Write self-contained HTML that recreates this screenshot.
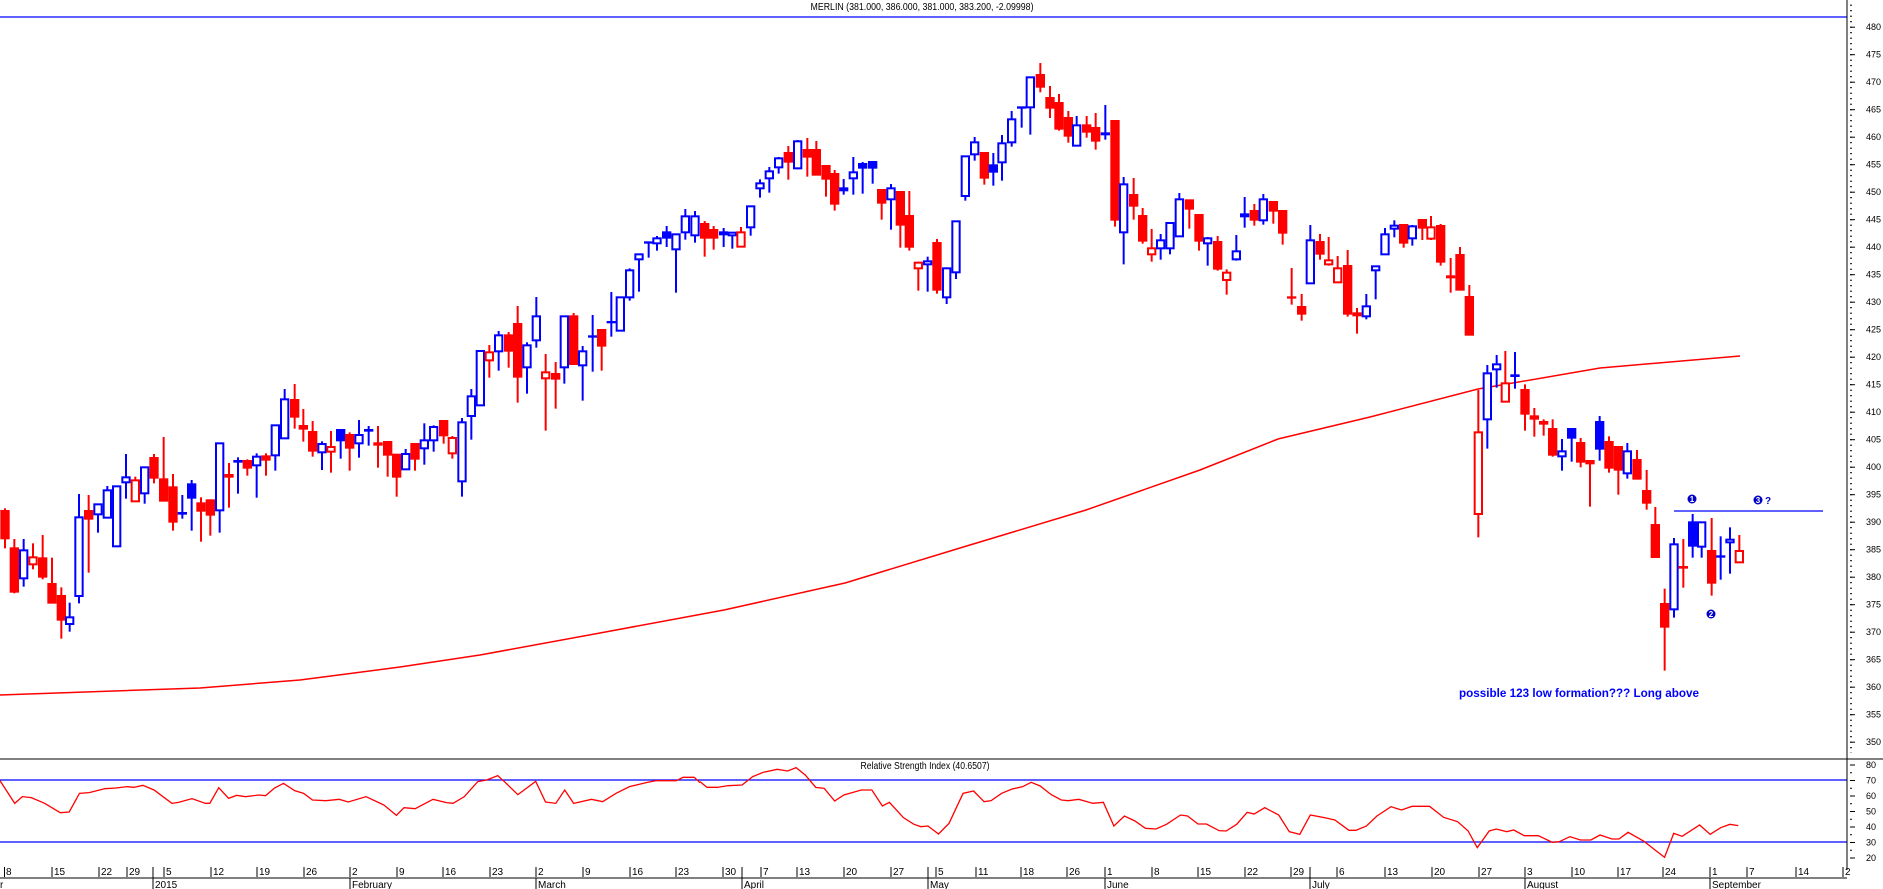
<!DOCTYPE html>
<html><head><meta charset="utf-8"><style>
html,body{margin:0;padding:0;background:#fff;}
svg{display:block;font-family:"Liberation Sans",sans-serif;}
.c path,.c rect{stroke-width:6;}
.R{stroke:#f00;fill:#f00}.B{stroke:#00f;fill:#fff}.H{stroke:#f00;fill:#fff}.F{stroke:#00f;fill:#00f}
.ax text{font-size:9px;fill:#000}
.dt text{font-size:10px;fill:#000}
</style></head><body>
<svg width="1883" height="889" viewBox="0 0 1883 889" xmlns="http://www.w3.org/2000/svg">
<defs>
<pattern id="pm" x="0" y="26.7" width="10" height="5.5" patternUnits="userSpaceOnUse"><line x1="0" y1="0.5" x2="4" y2="0.5" stroke="#000" stroke-width="1"/></pattern>
<pattern id="pM" x="0" y="26.7" width="10" height="27.5" patternUnits="userSpaceOnUse"><line x1="0" y1="0.5" x2="7" y2="0.5" stroke="#000" stroke-width="1"/></pattern>
<pattern id="rm" x="0" y="764.5" width="10" height="7.75" patternUnits="userSpaceOnUse"><line x1="0" y1="0.5" x2="4" y2="0.5" stroke="#000" stroke-width="1"/></pattern>
<pattern id="rM" x="0" y="764.5" width="10" height="15.5" patternUnits="userSpaceOnUse"><line x1="0" y1="0.5" x2="7" y2="0.5" stroke="#000" stroke-width="1"/></pattern>
</defs>
<text x="922" y="10" font-size="10" text-anchor="middle" textLength="223" lengthAdjust="spacingAndGlyphs">MERLIN (381.000, 386.000, 381.000, 383.200, -2.09998)</text>
<line x1="0" y1="17" x2="1847" y2="17" stroke="#00f" stroke-width="1.2"/>

<polyline fill="none" stroke="#f00" stroke-width="1.5" points="0,695 200,688 300,680 400,667 480,655 600,633 724,610 845,583 960,548 1086,510 1200,470 1278,439 1370,417 1478,389 1600,368 1740,356"/>

<g class="c" transform="translate(0,280) scale(0.33333)">
<path class="R" d="M15 685V805"/><rect class="R" x="4" y="693" width="22" height="82"/>
<path class="R" d="M43 777V940"/><rect class="R" x="32" y="805" width="22" height="130"/>
<path class="B" d="M71 777V920"/><rect class="B" x="60" y="811" width="22" height="84"/>
<path class="H" d="M99 790V868"/><rect class="H" x="88" y="832" width="22" height="21"/>
<path class="R" d="M128 765V898"/><rect class="R" x="117" y="835" width="22" height="55"/>
<path class="R" d="M156 833V968"/><rect class="R" x="145" y="912" width="22" height="56"/>
<path class="R" d="M184 922V1076"/><rect class="R" x="173" y="948" width="22" height="71"/>
<path class="B" d="M209 968V1055"/><rect class="B" x="198" y="1012" width="22" height="20"/>
<path class="B" d="M237 642V970"/><rect class="B" x="226" y="712" width="22" height="236"/>
<path class="R" d="M266 645V878"/><rect class="R" x="255" y="693" width="22" height="23"/>
<path class="B" d="M294 673V758"/><rect class="B" x="283" y="673" width="22" height="30"/>
<path class="B" d="M322 618V715"/><rect class="B" x="311" y="631" width="22" height="82"/>
<path class="B" d="M350 618V800"/><rect class="B" x="339" y="619" width="22" height="180"/>
<path class="B" d="M378 522V656"/><rect class="B" x="367" y="592" width="22" height="15"/>
<path class="H" d="M406 590V664"/><rect class="H" x="395" y="601" width="22" height="63"/>
<path class="B" d="M434 562V671"/><rect class="B" x="423" y="562" width="22" height="78"/>
<path class="R" d="M462 522V610"/><rect class="R" x="451" y="534" width="22" height="59"/>
<path class="R" d="M491 471V662"/><rect class="R" x="480" y="598" width="22" height="64"/>
<path class="R" d="M519 582V752"/><rect class="R" x="508" y="622" width="22" height="103"/>
<path class="B" d="M547 645V716"/><rect class="B" x="536" y="699" width="22" height="2"/>
<path class="F" d="M575 600V752"/><rect class="F" x="564" y="613" width="22" height="40"/>
<path class="R" d="M603 652V785"/><rect class="R" x="592" y="670" width="22" height="22"/>
<path class="R" d="M631 658V767"/><rect class="R" x="620" y="661" width="22" height="43"/>
<path class="B" d="M659 490V758"/><rect class="B" x="648" y="490" width="22" height="201"/>
<path class="R" d="M687 549V683"/><rect class="R" x="676" y="585" width="22" height="5"/>
<path class="B" d="M714 532V641"/><rect class="B" x="703" y="543" width="22" height="2"/>
<path class="R" d="M742 538V587"/><rect class="R" x="731" y="543" width="22" height="20"/>
<path class="B" d="M770 520V653"/><rect class="B" x="759" y="530" width="22" height="26"/>
<path class="R" d="M798 520V587"/><rect class="R" x="787" y="529" width="22" height="10"/>
<path class="B" d="M826 436V572"/><rect class="B" x="815" y="436" width="22" height="90"/>
<path class="B" d="M854 327V475"/><rect class="B" x="843" y="358" width="22" height="117"/>
<path class="R" d="M884 312V446"/><rect class="R" x="873" y="360" width="22" height="50"/>
<path class="R" d="M910 387V485"/><rect class="R" x="899" y="438" width="22" height="8"/>
<path class="R" d="M938 423V530"/><rect class="R" x="927" y="456" width="22" height="56"/>
<path class="B" d="M966 484V570"/><rect class="B" x="955" y="492" width="22" height="25"/>
<path class="H" d="M993 453V578"/><rect class="H" x="982" y="501" width="22" height="14"/>
<path class="F" d="M1022 450V536"/><rect class="F" x="1011" y="450" width="22" height="31"/>
<path class="R" d="M1049 457V572"/><rect class="R" x="1038" y="465" width="22" height="38"/>
<path class="B" d="M1077 420V533"/><rect class="B" x="1066" y="465" width="22" height="25"/>
<path class="B" d="M1106 438V497"/><rect class="B" x="1095" y="450" width="22" height="2"/>
<path class="R" d="M1134 438V563"/><rect class="R" x="1123" y="490" width="22" height="4"/>
<path class="R" d="M1163 486V590"/><rect class="R" x="1152" y="486" width="22" height="38"/>
<path class="R" d="M1190 524V650"/><rect class="R" x="1179" y="524" width="22" height="66"/>
<path class="B" d="M1217 507V568"/><rect class="B" x="1206" y="522" width="22" height="46"/>
<path class="R" d="M1245 492V572"/><rect class="R" x="1234" y="492" width="22" height="44"/>
<path class="B" d="M1273 430V554"/><rect class="B" x="1262" y="481" width="22" height="24"/>
<path class="B" d="M1301 436V515"/><rect class="B" x="1290" y="441" width="22" height="40"/>
<path class="R" d="M1331 423V491"/><rect class="R" x="1320" y="423" width="22" height="43"/>
<path class="H" d="M1357 468V536"/><rect class="H" x="1346" y="474" width="22" height="46"/>
<path class="B" d="M1386 414V650"/><rect class="B" x="1375" y="427" width="22" height="177"/>
<path class="B" d="M1414 327V479"/><rect class="B" x="1403" y="349" width="22" height="59"/>
</g>

<g class="c" transform="translate(460,120) scale(0.33333)">
<path class="B" d="M61 693V856"/><rect class="B" x="50" y="693" width="22" height="163"/>
<path class="H" d="M88 675V773"/><rect class="H" x="77" y="697" width="22" height="24"/>
<path class="B" d="M116 633V752"/><rect class="B" x="105" y="646" width="22" height="48"/>
<path class="R" d="M146 636V743"/><rect class="R" x="135" y="646" width="22" height="46"/>
<path class="R" d="M173 558V848"/><rect class="R" x="162" y="612" width="22" height="158"/>
<path class="B" d="M201 667V821"/><rect class="B" x="190" y="676" width="22" height="66"/>
<path class="B" d="M229 531V683"/><rect class="B" x="218" y="589" width="22" height="72"/>
<path class="H" d="M257 702V932"/><rect class="H" x="246" y="757" width="22" height="18"/>
<path class="R" d="M287 726V866"/><rect class="R" x="276" y="762" width="22" height="14"/>
<path class="B" d="M313 589V791"/><rect class="B" x="302" y="589" width="22" height="153"/>
<path class="R" d="M341 579V732"/><rect class="R" x="330" y="589" width="22" height="143"/>
<path class="B" d="M368 678V842"/><rect class="B" x="357" y="694" width="22" height="42"/>
<path class="B" d="M398 585V755"/><rect class="B" x="387" y="649" width="22" height="1"/>
<path class="R" d="M425 630V752"/><rect class="R" x="414" y="630" width="22" height="47"/>
<path class="B" d="M454 516V650"/><rect class="B" x="443" y="606" width="22" height="1"/>
<path class="B" d="M481 532V632"/><rect class="B" x="470" y="532" width="22" height="100"/>
<path class="B" d="M509 445V542"/><rect class="B" x="498" y="451" width="22" height="81"/>
<path class="B" d="M537 403V515"/><rect class="B" x="526" y="403" width="22" height="15"/>
<path class="B" d="M566 366V413"/><rect class="B" x="555" y="367" width="22" height="1"/>
<path class="B" d="M591 348V392"/><rect class="B" x="580" y="355" width="22" height="15"/>
<path class="F" d="M620 318V381"/><rect class="F" x="609" y="337" width="22" height="16"/>
<path class="B" d="M648 343V518"/><rect class="B" x="637" y="343" width="22" height="45"/>
<path class="B" d="M676 267V359"/><rect class="B" x="665" y="289" width="22" height="48"/>
<path class="B" d="M705 273V368"/><rect class="B" x="694" y="289" width="22" height="57"/>
<path class="R" d="M734 303V410"/><rect class="R" x="723" y="312" width="22" height="41"/>
<path class="R" d="M761 318V389"/><rect class="R" x="750" y="330" width="22" height="23"/>
<path class="F" d="M791 324V381"/><rect class="F" x="780" y="337" width="22" height="6"/>
<path class="B" d="M817 338V386"/><rect class="B" x="806" y="338" width="22" height="8"/>
<path class="H" d="M843 321V380"/><rect class="H" x="832" y="337" width="22" height="43"/>
<path class="B" d="M872 259V347"/><rect class="B" x="861" y="259" width="22" height="63"/>
<path class="B" d="M900 178V233"/><rect class="B" x="889" y="190" width="22" height="15"/>
<path class="B" d="M928 141V218"/><rect class="B" x="917" y="154" width="22" height="21"/>
<path class="B" d="M956 111V161"/><rect class="B" x="945" y="115" width="22" height="27"/>
<path class="R" d="M985 78V179"/><rect class="R" x="974" y="99" width="22" height="26"/>
<path class="B" d="M1013 60V148"/><rect class="B" x="1002" y="64" width="22" height="81"/>
<path class="R" d="M1042 54V170"/><rect class="R" x="1031" y="90" width="22" height="20"/>
<path class="R" d="M1069 63V164"/><rect class="R" x="1058" y="90" width="22" height="74"/>
<path class="R" d="M1098 138V230"/><rect class="R" x="1087" y="138" width="22" height="38"/>
<path class="R" d="M1124 150V272"/><rect class="R" x="1113" y="162" width="22" height="89"/>
<path class="B" d="M1151 177V224"/><rect class="B" x="1140" y="205" width="22" height="6"/>
<path class="B" d="M1180 111V224"/><rect class="B" x="1169" y="157" width="22" height="18"/>
<path class="F" d="M1208 126V221"/><rect class="F" x="1197" y="132" width="22" height="11"/>
<path class="F" d="M1238 126V191"/><rect class="F" x="1227" y="126" width="22" height="17"/>
<path class="R" d="M1265 210V299"/><rect class="R" x="1254" y="210" width="22" height="38"/>
<path class="B" d="M1293 192V329"/><rect class="B" x="1282" y="205" width="22" height="33"/>
<path class="R" d="M1321 216V383"/><rect class="R" x="1310" y="216" width="22" height="98"/>
<path class="R" d="M1348 213V392"/><rect class="R" x="1337" y="288" width="22" height="92"/>
<path class="H" d="M1375 425V512"/><rect class="H" x="1364" y="428" width="22" height="17"/>
<path class="B" d="M1403 410V515"/><rect class="B" x="1392" y="424" width="22" height="9"/>
<path class="R" d="M1431 357V521"/><rect class="R" x="1420" y="369" width="22" height="140"/>
</g>

<g class="c" transform="translate(930,40) scale(0.33333)">
<path class="B" d="M50 682V792"/><rect class="B" x="39" y="685" width="22" height="87"/>
<path class="B" d="M78 544V717"/><rect class="B" x="67" y="544" width="22" height="153"/>
<path class="B" d="M106 349V482"/><rect class="B" x="95" y="349" width="22" height="119"/>
<path class="B" d="M134 291V362"/><rect class="B" x="123" y="307" width="22" height="36"/>
<path class="R" d="M163 339V434"/><rect class="R" x="152" y="339" width="22" height="74"/>
<path class="F" d="M190 339V437"/><rect class="F" x="179" y="376" width="22" height="19"/>
<path class="B" d="M216 285V422"/><rect class="B" x="205" y="310" width="22" height="57"/>
<path class="B" d="M245 213V320"/><rect class="B" x="234" y="238" width="22" height="69"/>
<path class="B" d="M275 202V263"/><rect class="B" x="264" y="202" width="22" height="1"/>
<path class="B" d="M301 112V284"/><rect class="B" x="290" y="112" width="22" height="90"/>
<path class="R" d="M331 69V157"/><rect class="R" x="320" y="105" width="22" height="35"/>
<path class="R" d="M360 138V234"/><rect class="R" x="349" y="174" width="22" height="29"/>
<path class="R" d="M387 162V272"/><rect class="R" x="376" y="189" width="22" height="77"/>
<path class="R" d="M415 213V308"/><rect class="R" x="404" y="234" width="22" height="53"/>
<path class="B" d="M440 228V317"/><rect class="B" x="429" y="256" width="22" height="61"/>
<path class="R" d="M470 228V293"/><rect class="R" x="459" y="256" width="22" height="19"/>
<path class="R" d="M497 219V329"/><rect class="R" x="486" y="264" width="22" height="38"/>
<path class="F" d="M526 195V299"/><rect class="F" x="515" y="280" width="22" height="3"/>
<path class="R" d="M555 243V560"/><rect class="R" x="544" y="243" width="22" height="296"/>
<path class="B" d="M581 411V673"/><rect class="B" x="570" y="433" width="22" height="144"/>
<path class="R" d="M611 414V539"/><rect class="R" x="600" y="465" width="22" height="32"/>
<path class="R" d="M638 504V611"/><rect class="R" x="627" y="528" width="22" height="74"/>
<path class="H" d="M665 567V665"/><rect class="H" x="654" y="625" width="22" height="18"/>
<path class="B" d="M692 582V659"/><rect class="B" x="681" y="601" width="22" height="24"/>
<path class="B" d="M720 549V643"/><rect class="B" x="709" y="549" width="22" height="76"/>
<path class="B" d="M748 459V589"/><rect class="B" x="737" y="478" width="22" height="111"/>
<path class="R" d="M778 481V566"/><rect class="R" x="767" y="481" width="22" height="25"/>
<path class="R" d="M807 525V632"/><rect class="R" x="796" y="525" width="22" height="77"/>
<path class="B" d="M833 591V677"/><rect class="B" x="822" y="595" width="22" height="15"/>
<path class="R" d="M863 588V692"/><rect class="R" x="852" y="606" width="22" height="80"/>
<path class="H" d="M890 688V764"/><rect class="H" x="879" y="698" width="22" height="22"/>
<path class="B" d="M919 585V662"/><rect class="B" x="908" y="634" width="22" height="24"/>
<path class="B" d="M944 471V563"/><rect class="B" x="933" y="523" width="22" height="6"/>
<path class="R" d="M973 492V557"/><rect class="R" x="962" y="513" width="22" height="26"/>
<path class="B" d="M1000 462V554"/><rect class="B" x="989" y="478" width="22" height="63"/>
<path class="R" d="M1030 486V551"/><rect class="R" x="1019" y="486" width="22" height="26"/>
<path class="R" d="M1058 513V614"/><rect class="R" x="1047" y="513" width="22" height="65"/>
<path class="R" d="M1085 684V794"/><rect class="R" x="1074" y="772" width="22" height="1"/>
<path class="R" d="M1115 762V842"/><rect class="R" x="1104" y="801" width="22" height="20"/>
<path class="B" d="M1141 555V730"/><rect class="B" x="1130" y="601" width="22" height="129"/>
<path class="R" d="M1170 582V659"/><rect class="R" x="1159" y="606" width="22" height="35"/>
<path class="H" d="M1196 591V677"/><rect class="H" x="1185" y="661" width="22" height="12"/>
<path class="H" d="M1223 648V727"/><rect class="H" x="1212" y="685" width="22" height="42"/>
<path class="R" d="M1253 630V830"/><rect class="R" x="1242" y="678" width="22" height="143"/>
<path class="H" d="M1281 804V881"/><rect class="H" x="1270" y="820" width="22" height="6"/>
<path class="B" d="M1309 762V838"/><rect class="B" x="1298" y="799" width="22" height="30"/>
</g>

<g class="c" transform="translate(1365,180) scale(0.33333)">
<path class="B" d="M32 258V358"/><rect class="B" x="21" y="259" width="22" height="12"/>
<path class="B" d="M60 144V223"/><rect class="B" x="49" y="163" width="22" height="60"/>
<path class="B" d="M88 121V172"/><rect class="B" x="77" y="137" width="22" height="9"/>
<path class="R" d="M116 135V203"/><rect class="R" x="105" y="135" width="22" height="53"/>
<path class="B" d="M142 135V197"/><rect class="B" x="131" y="139" width="22" height="36"/>
<path class="R" d="M172 120V180"/><rect class="R" x="161" y="120" width="22" height="23"/>
<path class="H" d="M198 108V180"/><rect class="H" x="187" y="142" width="22" height="34"/>
<path class="R" d="M227 132V257"/><rect class="R" x="216" y="138" width="22" height="107"/>
<path class="R" d="M257 234V338"/><rect class="R" x="246" y="289" width="22" height="3"/>
<path class="R" d="M285 201V329"/><rect class="R" x="274" y="225" width="22" height="104"/>
<path class="R" d="M313 315V464"/><rect class="R" x="302" y="351" width="22" height="113"/>
</g>

<g class="c" transform="translate(1360,340) scale(0.33333)">
<path class="H" d="M355 150V592"/><rect class="H" x="344" y="277" width="22" height="245"/>
<path class="B" d="M382 75V326"/><rect class="B" x="371" y="100" width="22" height="138"/>
<path class="B" d="M410 45V143"/><rect class="B" x="399" y="73" width="22" height="15"/>
<path class="H" d="M436 33V185"/><rect class="H" x="425" y="130" width="22" height="55"/>
<path class="F" d="M465 36V146"/><rect class="F" x="454" y="106" width="22" height="2"/>
<path class="R" d="M495 133V272"/><rect class="R" x="484" y="150" width="22" height="71"/>
<path class="R" d="M523 204V290"/><rect class="R" x="512" y="229" width="22" height="7"/>
<path class="R" d="M551 238V287"/><rect class="R" x="540" y="246" width="22" height="5"/>
<path class="R" d="M578 238V350"/><rect class="R" x="567" y="267" width="22" height="77"/>
<path class="B" d="M606 297V392"/><rect class="B" x="595" y="334" width="22" height="15"/>
<path class="F" d="M635 265V365"/><rect class="F" x="624" y="267" width="22" height="26"/>
<path class="R" d="M662 294V382"/><rect class="R" x="651" y="309" width="22" height="56"/>
<path class="R" d="M690 362V500"/><rect class="R" x="679" y="363" width="22" height="7"/>
<path class="F" d="M719 228V362"/><rect class="F" x="708" y="246" width="22" height="80"/>
<path class="R" d="M747 289V398"/><rect class="R" x="736" y="306" width="22" height="77"/>
<path class="R" d="M775 320V464"/><rect class="R" x="764" y="321" width="22" height="68"/>
<path class="B" d="M802 309V416"/><rect class="B" x="791" y="334" width="22" height="66"/>
<path class="R" d="M831 330V416"/><rect class="R" x="820" y="360" width="22" height="56"/>
<path class="R" d="M860 390V509"/><rect class="R" x="849" y="453" width="22" height="35"/>
<path class="R" d="M886 501V651"/><rect class="R" x="875" y="555" width="22" height="96"/>
<path class="R" d="M914 746V992"/><rect class="R" x="903" y="792" width="22" height="68"/>
<path class="B" d="M942 594V833"/><rect class="B" x="931" y="613" width="22" height="195"/>
<path class="R" d="M970 597V743"/><rect class="R" x="959" y="681" width="22" height="2"/>
<path class="F" d="M998 522V653"/><rect class="F" x="987" y="547" width="22" height="70"/>
<path class="B" d="M1025 546V653"/><rect class="B" x="1014" y="547" width="22" height="73"/>
<path class="R" d="M1055 534V767"/><rect class="R" x="1044" y="633" width="22" height="95"/>
<path class="B" d="M1082 589V719"/><rect class="B" x="1071" y="649" width="22" height="1"/>
<path class="B" d="M1110 562V701"/><rect class="B" x="1099" y="599" width="22" height="8"/>
<path class="H" d="M1138 585V667"/><rect class="H" x="1127" y="633" width="22" height="34"/>
</g>

<line x1="1674" y1="511" x2="1823" y2="511" stroke="#00f" stroke-width="1.2"/>
<g font-size="8" font-weight="bold" text-anchor="middle" fill="#fff">
<circle cx="1692" cy="499" r="4.5" fill="#0000c8"/><text x="1692" y="502">1</text>
<circle cx="1711" cy="614" r="4.5" fill="#0000c8"/><text x="1711" y="617">2</text>
<circle cx="1758" cy="500" r="4.5" fill="#0000c8"/><text x="1758" y="503">3</text>
</g>
<text x="1765" y="504" font-size="10" font-weight="bold" fill="#0000c8">?</text>
<text x="1459" y="697" font-size="12" font-weight="bold" fill="#0000ff" textLength="240" lengthAdjust="spacingAndGlyphs">possible 123 low formation???  Long above</text>

<line x1="0" y1="759" x2="1883" y2="759" stroke="#000" stroke-width="1"/>
<text x="925" y="769" font-size="10" text-anchor="middle" textLength="129" lengthAdjust="spacingAndGlyphs">Relative Strength Index (40.6507)</text>
<line x1="0" y1="780" x2="1847" y2="780" stroke="#00f" stroke-width="1.2"/>
<line x1="0" y1="842" x2="1847" y2="842" stroke="#00f" stroke-width="1.2"/>
<g transform="translate(0,740) scale(0.44643,0.33333)">
<polyline fill="none" stroke="#f00" stroke-width="1.3" vector-effect="non-scaling-stroke" points="0,122 33,190 50,170 70,173 100,190 135,218 155,216 178,160 200,158 235,146 260,144 285,140 300,142 320,136 345,150 385,190 400,187 430,176 460,190 470,190 490,143 512,175 530,166 550,170 580,165 595,167 615,144 635,130 660,152 680,160 700,180 730,182 760,178 780,186 820,170 860,195 888,226 905,203 930,206 970,178 1000,188 1015,190 1040,170 1070,125 1090,120 1115,107 1130,125 1160,164 1200,124 1222,186 1245,190 1265,150 1285,190 1325,178 1350,185 1380,160 1410,140 1450,127 1470,122 1515,122 1530,112 1555,112 1568,128"/>
</g>
<g transform="translate(700,755) scale(0.70151,0.33333)">
<polyline fill="none" stroke="#f00" stroke-width="1.3" vector-effect="non-scaling-stroke" points="0,80 10,97 25,97 40,92 60,90 75,65 90,52 110,43 125,48 137,38 150,60 165,97 177,100 192,138 205,120 230,105 245,105 260,153 270,142 290,188 305,208 315,215 325,213 340,237 355,205 375,115 390,108 405,140 415,137 430,115 445,102 460,95 472,82 485,93 500,118 515,135 525,137 540,133 560,145 575,142 590,213 605,183 620,198 635,220 650,222 665,208 685,180 695,183 710,207 722,207 740,227 750,228 765,208 780,172 790,177 805,158 825,180 840,230 855,238 870,180 890,188 905,195 925,226 935,226 950,213 965,183 985,155 1000,165 1015,154 1040,154 1060,187 1080,200 1095,228 1108,278 1125,228 1135,222 1150,230 1160,225 1175,242 1195,242 1215,262 1225,260 1240,245 1255,255 1270,255 1283,240 1300,252 1310,252 1323,232 1345,258 1375,307 1388,235 1400,244 1425,210 1440,238 1455,218 1468,208 1480,212"/>
</g>

<line x1="1847" y1="0" x2="1847" y2="870" stroke="#000" stroke-width="1"/>
<rect x="1847" y="1" width="5" height="752" fill="url(#pm)"/>
<rect x="1847" y="26" width="8" height="720" fill="url(#pM)"/>
<rect x="1847" y="764" width="5" height="100" fill="url(#rm)"/>
<rect x="1847" y="764" width="8" height="100" fill="url(#rM)"/>
<g class="ax">
<text x="1866" y="30">480</text><text x="1866" y="57.5">475</text><text x="1866" y="85">470</text><text x="1866" y="112.5">465</text><text x="1866" y="140">460</text><text x="1866" y="167.5">455</text><text x="1866" y="195">450</text><text x="1866" y="222.5">445</text><text x="1866" y="250">440</text><text x="1866" y="277.5">435</text><text x="1866" y="305">430</text><text x="1866" y="332.5">425</text><text x="1866" y="360">420</text><text x="1866" y="387.5">415</text><text x="1866" y="415">410</text><text x="1866" y="442.5">405</text><text x="1866" y="470">400</text><text x="1866" y="497.5">395</text><text x="1866" y="525">390</text><text x="1866" y="552.5">385</text><text x="1866" y="580">380</text><text x="1866" y="607.5">375</text><text x="1866" y="635">370</text><text x="1866" y="662.5">365</text><text x="1866" y="690">360</text><text x="1866" y="717.5">355</text><text x="1866" y="745">350</text>
<text x="1866" y="768">80</text><text x="1866" y="783.5">70</text><text x="1866" y="799">60</text><text x="1866" y="814.5">50</text><text x="1866" y="830">40</text><text x="1866" y="845.5">30</text><text x="1866" y="861">20</text>
</g>

<line x1="0" y1="878" x2="1847" y2="878" stroke="#000" stroke-width="1"/>
<g stroke="#000" stroke-width="1">
<path d="M4.5 867V877M52 867V877M99 867V877M127 867V877M164 867V877M211 867V877M257 867V877M304 867V877M350 867V877M397 867V877M443 867V877M490 867V877M536 867V877M583 867V877M630 867V877M676 867V877M723 867V877M761 867V877M797 867V877M844 867V877M891 867V877M936 867V877M976 867V877M1021 867V877M1067 867V877M1105 867V877M1152 867V877M1198 867V877M1245 867V877M1291 867V877M1337 867V877M1385 867V877M1432 867V877M1479 867V877M1525 867V877M1572 867V877M1618 867V877M1663 867V877M1710 867V877M1747 867V877M1796 867V877M1843 867V877"/>
<path d="M153 867V889M350 878V889M536 878V889M742 867V889M928 867V889M1105 878V889M1310 867V889M1525 878V889M1710 878V889"/>
</g>
<g class="dt">
<text x="6" y="875">8</text><text x="54" y="875">15</text><text x="101" y="875">22</text><text x="129" y="875">29</text><text x="166" y="875">5</text><text x="213" y="875">12</text><text x="259" y="875">19</text><text x="306" y="875">26</text><text x="352" y="875">2</text><text x="399" y="875">9</text><text x="445" y="875">16</text><text x="492" y="875">23</text><text x="538" y="875">2</text><text x="585" y="875">9</text><text x="632" y="875">16</text><text x="678" y="875">23</text><text x="725" y="875">30</text><text x="763" y="875">7</text><text x="799" y="875">13</text><text x="846" y="875">20</text><text x="893" y="875">27</text><text x="938" y="875">5</text><text x="978" y="875">11</text><text x="1023" y="875">18</text><text x="1069" y="875">26</text><text x="1107" y="875">1</text><text x="1154" y="875">8</text><text x="1200" y="875">15</text><text x="1247" y="875">22</text><text x="1293" y="875">29</text><text x="1339" y="875">6</text><text x="1387" y="875">13</text><text x="1434" y="875">20</text><text x="1481" y="875">27</text><text x="1527" y="875">3</text><text x="1574" y="875">10</text><text x="1620" y="875">17</text><text x="1665" y="875">24</text><text x="1712" y="875">1</text><text x="1749" y="875">7</text><text x="1798" y="875">14</text><text x="1845" y="875">2</text>
<text x="0" y="888">r</text><text x="155" y="888">2015</text><text x="352" y="888">February</text><text x="538" y="888">March</text><text x="744" y="888">April</text><text x="930" y="888">May</text><text x="1107" y="888">June</text><text x="1312" y="888">July</text><text x="1527" y="888">August</text><text x="1712" y="888">September</text>
</g>
</svg>
</body></html>
